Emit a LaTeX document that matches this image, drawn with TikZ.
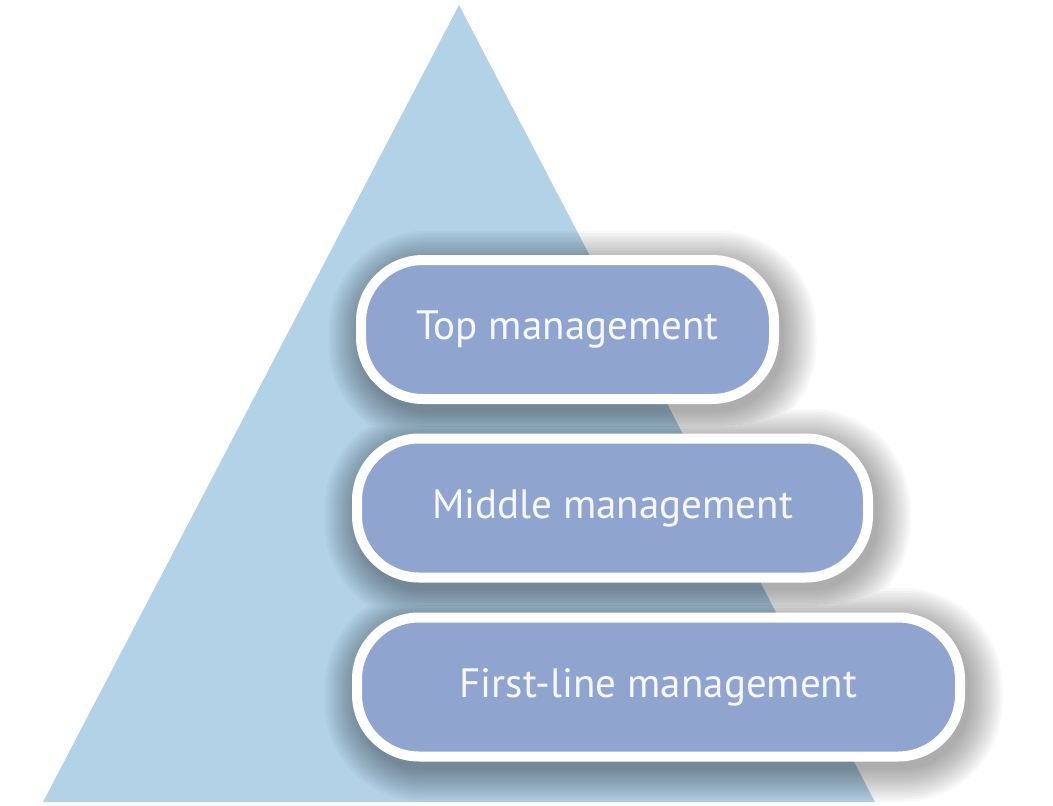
\documentclass[tikz,border=0pt]{standalone}
\usepackage{fontspec}
\setmainfont{PT Sans}
\definecolor{triblue}{HTML}{B2D2E8}
\definecolor{pillblue}{HTML}{8FA4CE}
\definecolor{txtwhite}{HTML}{F7F8FC}
\tikzset{
  pill/.style={fill=pillblue, draw=white, line width=10pt, rounded corners=62pt,
    minimum height=139pt, inner sep=0pt, text=txtwhite,
    font=\fontsize{41}{46}\selectfont},
  shadowlayer/.style={fill=black, opacity=0.026}
}
% #1 cx, #2 cy, #3 outer half width, #4 outer half height
\newcommand\pillshadow[4]{%
  \foreach \k in {0,...,13}{%
    \pgfmathsetmacro\ee{2.5*\k}%
    \pgfmathsetmacro\rr{67+\ee}%
    \fill[shadowlayer, rounded corners=\rr pt]
      (#1-#3-\ee+5, #2-#4-\ee+8) rectangle (#1+#3+\ee+5, #2+#4+\ee+8);
  }%
}
\begin{document}
\begin{tikzpicture}[x=1pt,y=-1pt]
\useasboundingbox (0,0) rectangle (1053,806);
\fill[triblue] (459,5) -- (43,802) -- (875,802) -- cycle;
\begin{scope}
  \clip (0,0) -- (1053,0) -- (1053,200) -- (950,260) -- (900,324) -- (850,372)
    -- (800,405) -- (784,412) -- (750,423) -- (717,426.5) -- (0,426.5) -- cycle;
  \pillshadow{567.5}{329.5}{211.5}{74.5}
\end{scope}
\begin{scope}
  \clip (0,426.5) -- (717,426.5) -- (750,423) -- (784,412) -- (800,405) -- (850,372)
    -- (900,324) -- (950,260) -- (1053,200) -- (1053,420) -- (1044,439) -- (994,503)
    -- (944,551) -- (894,584) -- (878,591) -- (844,602) -- (811,605.5) -- (0,605.5) -- cycle;
  \pillshadow{612.5}{508}{260.5}{74.5}
\end{scope}
\begin{scope}
  \clip (0,605.5) -- (811,605.5) -- (844,602) -- (878,591) -- (894,584) -- (944,551)
    -- (994,503) -- (1044,439) -- (1053,420) -- (1053,806) -- (0,806) -- cycle;
  \pillshadow{658.5}{687}{306.5}{74.5}
\end{scope}
\node[pill, minimum width=413pt] (top) at (567.5,329.5) {\raisebox{-4pt}{Top management}};
\node[pill, minimum width=511pt] (mid) at (612.5,508) {\raisebox{-4pt}{Middle management}};
\node[pill, minimum width=603pt] (first) at (658.5,687) {\raisebox{-4pt}{First-line management}};
\end{tikzpicture}
\end{document}
